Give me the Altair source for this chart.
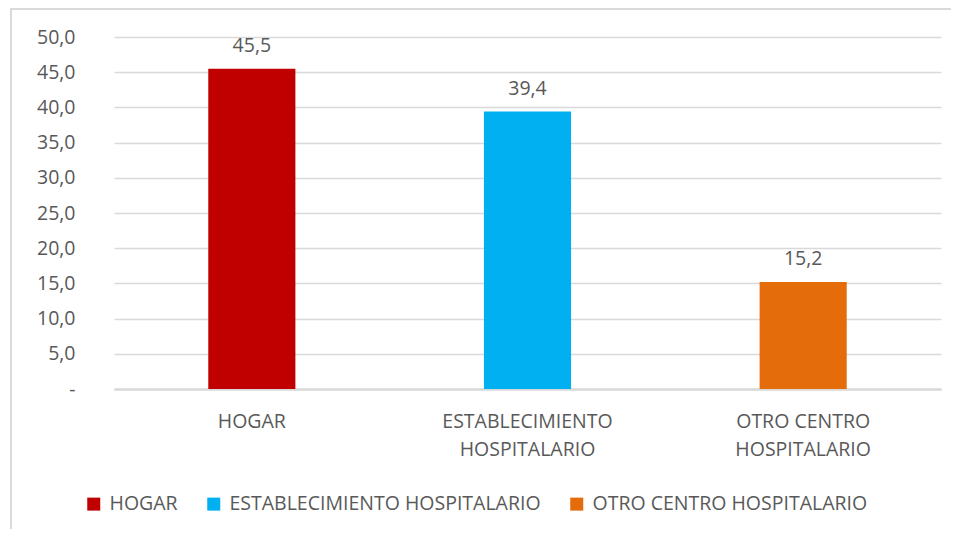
import altair as alt
import pandas as pd

categorias = ["HOGAR", "ESTABLECIMIENTO HOSPITALARIO", "OTRO CENTRO HOSPITALARIO"]
valores = [45.5, 39.4, 15.2]
colores = ["#C00000", "#00B0F0", "#E46C0A"]
y_ticks = [0, 5, 10, 15, 20, 25, 30, 35, 40, 45, 50]

df = pd.DataFrame({"cat": categorias, "val": valores})

FONT = "Open Sans"
TXT = "#595959"
GRID = "#D9D9D9"
FS = 19.5

label_expr = (
    "datum.label == 'ESTABLECIMIENTO HOSPITALARIO' ? ['ESTABLECIMIENTO', 'HOSPITALARIO'] : "
    "datum.label == 'OTRO CENTRO HOSPITALARIO' ? ['OTRO CENTRO', 'HOSPITALARIO'] : datum.label"
)

x_enc = alt.X(
    "cat:N",
    sort=categorias,
    scale=alt.Scale(paddingInner=0, paddingOuter=0),
    axis=alt.Axis(
        title=None, labelAngle=0, labelExpr=label_expr, labelFont=FONT, labelFontSize=FS,
        labelColor=TXT, labelPadding=23, labelLineHeight=28, ticks=False,
        domainColor=GRID, domainWidth=2.5, grid=False, labelLimit=400,
    ),
)
y_enc = alt.Y(
    "val:Q",
    scale=alt.Scale(domain=[0, 50], nice=False),
    axis=alt.Axis(
        title=None, values=y_ticks, labelFont=FONT, labelFontSize=FS, labelColor=TXT,
        labelPadding=39, ticks=False, domain=False, gridColor=GRID, gridWidth=1.5,
        labelOverlap=False,
        labelExpr="datum.value == 0 ? '-\u00a0\u00a0' : replace(format(datum.value, '.1f'), '.', ',')",
    ),
)

bars = alt.Chart(df).mark_bar(width=alt.RelativeBandSize(0.316)).encode(
    x=x_enc,
    y=y_enc,
    color=alt.Color(
        "cat:N",
        sort=categorias,
        scale=alt.Scale(domain=categorias, range=colores),
        legend=alt.Legend(
            title=None, orient="none", direction="horizontal", legendX=-30, legendY=457,
            symbolType="square", symbolSize=169, symbolStrokeWidth=0, labelFont=FONT,
            labelFontSize=FS, labelColor=TXT, labelOffset=6, columnPadding=26, labelLimit=500,
        ),
    ),
)

labels = alt.Chart(df).transform_calculate(
    lbl="replace(format(datum.val, '.1f'), '.', ',')"
).mark_text(font=FONT, fontSize=FS, color=TXT, baseline="middle", dy=-23).encode(
    x=x_enc, y=y_enc, text="lbl:N"
)

border = alt.Chart(df).mark_rect(fill=None, stroke=GRID, strokeWidth=2).encode(
    x=alt.value(-103), x2=alt.value(860), y=alt.value(-28), y2=alt.value(520)
)

chart = alt.layer(border, bars, labels).properties(
    width=827, height=352,
    autosize=alt.AutoSizeParams(type="none"),
    padding={"left": 106, "top": 29, "right": 10, "bottom": 140},
    background="white",
).configure_view(stroke=None)

chart.save("out.html", embed_options={"renderer": "svg", "actions": False})
